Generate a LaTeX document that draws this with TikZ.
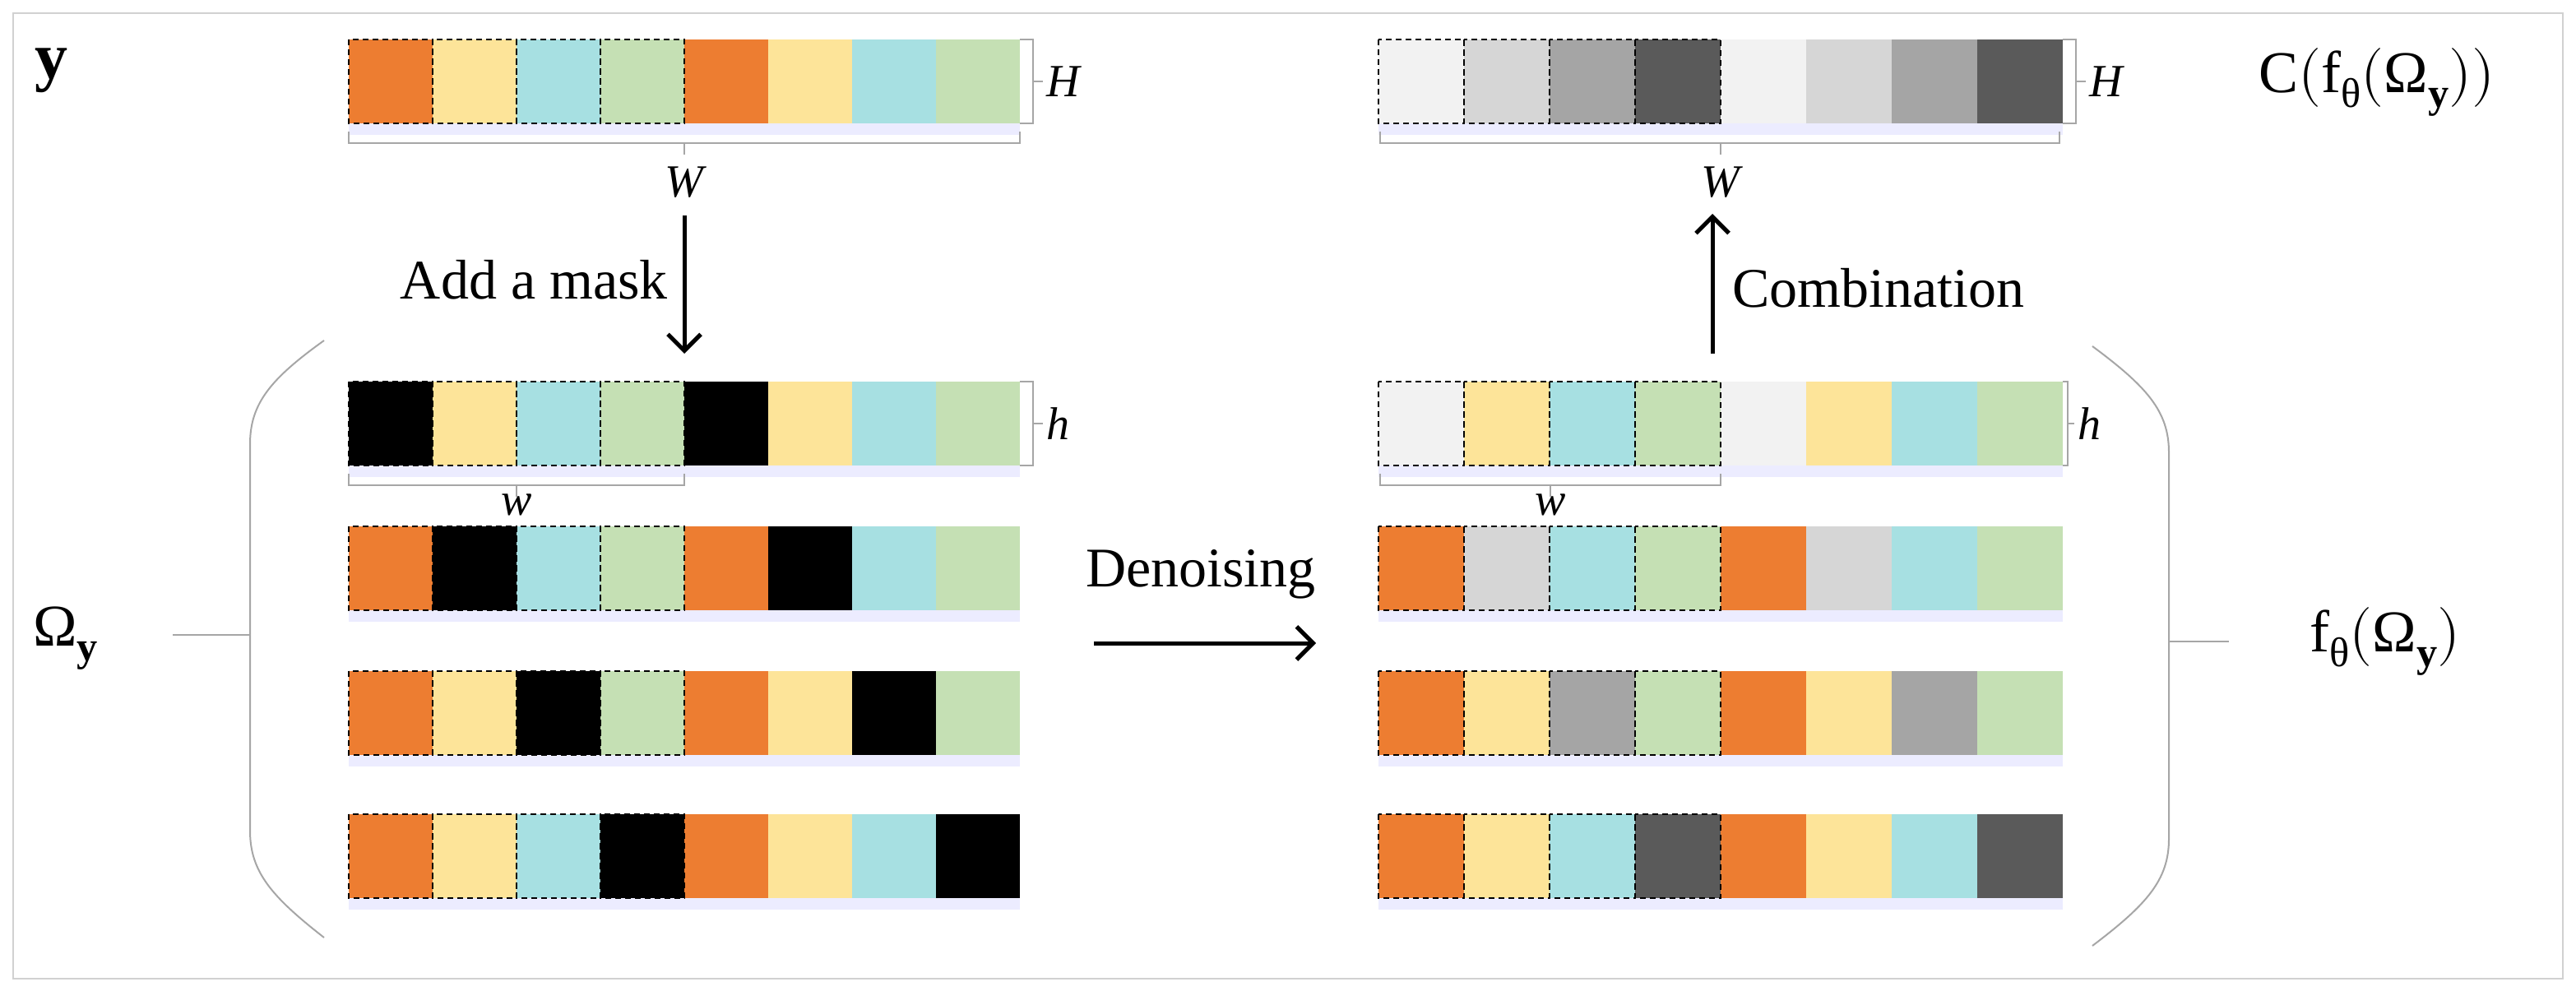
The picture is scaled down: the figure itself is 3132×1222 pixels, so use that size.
\documentclass[tikz,border=0pt]{standalone}
\usetikzlibrary{arrows.meta}
\usepackage{fontspec}
\setmainfont{Liberation Serif}
\usepackage{amsmath}
\usepackage{unicode-math}
\setmathfont{Latin Modern Math}
\setmathfont[range={up/{Latin,latin,Greek,greek},it/{Latin,latin,Greek,greek},bfup/{Latin,latin,Greek,greek}}]{Liberation Serif}
\begin{document}
\definecolor{co}{HTML}{ED7D31}
\definecolor{cy}{HTML}{FDE499}
\definecolor{cc}{HTML}{A7E0E2}
\definecolor{cg}{HTML}{C5E0B4}
\definecolor{g1}{HTML}{F2F2F2}
\definecolor{g2}{HTML}{D6D6D6}
\definecolor{g3}{HTML}{A5A5A5}
\definecolor{g4}{HTML}{5A5A5A}
\definecolor{brk}{HTML}{A6A6A6}
\begin{tikzpicture}[x=1pt,y=-1pt,
  cell/.style={draw=none,inner sep=0},
  dcell/.style={draw=black,dashed,line width=1.5pt,dash pattern=on 7pt off 5pt},
  brk/.style={draw=brk,line width=2.5pt},
  lbl/.style={font=\fontsize{56}{60}\selectfont\itshape,inner sep=0},
  txt/.style={font=\fontsize{68}{76}\selectfont,inner sep=0},
  arr/.style={line width=5pt,-{Straight Barb[length=20pt,width=40pt,line width=5pt]}}]
\useasboundingbox (0,0) rectangle (3132,1222);
\draw[draw=black!18,line width=2pt] (16,16) rectangle (3116,1190);
\newcommand{\mystrip}[5]{%
  \fill[blue!30,opacity=0.25] (#1,#2+102) rectangle ++(8*#3,14);
  \foreach \c [count=\i from 0] in {#5} {
    \fill[\c] (#1+\i*#3,#2) rectangle ++(#3,102);
  }
  \foreach \i in {0,1,2,3} {
    \draw[dcell] (#1+\i*#3,#2) rectangle ++(#3,102);
  }
  \coordinate (#4) at (#1,#2);
}
\mystrip{424}{48}{102}{sy}{co,cy,cc,cg,co,cy,cc,cg}
\mystrip{424}{464}{102}{m1}{black,cy,cc,cg,black,cy,cc,cg}
\mystrip{424}{640}{102}{m2}{co,black,cc,cg,co,black,cc,cg}
\mystrip{424}{816}{102}{m3}{co,cy,black,cg,co,cy,black,cg}
\mystrip{424}{990}{102}{m4}{co,cy,cc,black,co,cy,cc,black}
\mystrip{1676}{48}{104}{sc}{g1,g2,g3,g4,g1,g2,g3,g4}
\mystrip{1676}{464}{104}{d1}{g1,cy,cc,cg,g1,cy,cc,cg}
\mystrip{1676}{640}{104}{d2}{co,g2,cc,cg,co,g2,cc,cg}
\mystrip{1676}{816}{104}{d3}{co,cy,g3,cg,co,cy,g3,cg}
\mystrip{1676}{990}{104}{d4}{co,cy,cc,g4,co,cy,cc,g4}
\draw[brk] (1240,48) -- (1256,48) -- (1256,150) -- (1240,150) (1256,99) -- (1268,99);
\node[lbl,anchor=west] (H1) at (1272,99) {H};
\draw[brk] (424,160) -- (424,174) -- (1240,174) -- (1240,160) (832,174) -- (832,188);
\node[lbl] (W1) at (832,222) {W};
\draw[brk] (2508,48) -- (2524,48) -- (2524,150) -- (2508,150) (2524,99) -- (2536,99);
\node[lbl,anchor=west] (H2) at (2540,99) {H};
\draw[brk] (1678,160) -- (1678,174) -- (2504,174) -- (2504,160) (2092,174) -- (2092,188);
\node[lbl] (W2) at (2092,222) {W};
\draw[brk] (1240,464) -- (1256,464) -- (1256,566) -- (1240,566) (1256,515) -- (1268,515);
\node[lbl,anchor=west] (h1) at (1272,515) {h};
\draw[brk] (424,576) -- (424,590) -- (832,590) -- (832,576) (628,590) -- (628,604);
\node[lbl] (w1) at (628,614) {w};
\draw[brk] (2508,464) -- (2514,464) -- (2514,566) -- (2508,566) (2514,515) -- (2522,515);
\node[lbl,anchor=west] (h2) at (2526,515) {h};
\draw[brk] (1678,576) -- (1678,590) -- (2092,590) -- (2092,576) (1885,590) -- (1885,604);
\node[lbl] (w2) at (1885,614) {w};
\coordinate (a1) at (832,262);
\coordinate (a2) at (832,430);
\draw[arr] (a1) -- (a2);
\node[txt,anchor=east] (am) at (812,340) {Add a mask};
\coordinate (c1) at (2082,430);
\coordinate (c2) at (2082,260);
\draw[arr] (c1) -- (c2);
\node[txt,anchor=west] (cb) at (2106,350) {Combination};
\coordinate (e1) at (1330,782);
\coordinate (e2) at (1600,782);
\draw[arr] (e1) -- (e2);
\node[txt] (dn) at (1460,698) {Denoising};
\draw[brk,line width=2pt] (394,414) .. controls (330,460) and (304,490) .. (304,540) -- (304,1010) .. controls (304,1060) and (330,1090) .. (394,1140);
\draw[brk,line width=2pt] (210,772) -- (304,772);
\draw[brk,line width=2pt] (2544,421) .. controls (2610,470) and (2637,500) .. (2637,550) -- (2637,1020) .. controls (2637,1070) and (2610,1100) .. (2544,1150);
\draw[brk,line width=2pt] (2637,780) -- (2710,780);
\node[font=\fontsize{80}{88}\selectfont\bfseries,inner sep=0] (ly) at (62,86) {y};
\node[font=\fontsize{72}{80}\selectfont,inner sep=0] (lo) at (80,776) {$\symbf{\Omega}_{\mathbf{y}}$};
\node[font=\fontsize{72}{80}\selectfont,inner sep=0] (lc) at (2890,100) {$C(f_{\theta}(\symbf{\Omega}_{\mathbf{y}}))$};
\node[font=\fontsize{72}{80}\selectfont,inner sep=0] (lf) at (2900,780) {$f_{\theta}(\symbf{\Omega}_{\mathbf{y}})$};
\end{tikzpicture}
\end{document}
